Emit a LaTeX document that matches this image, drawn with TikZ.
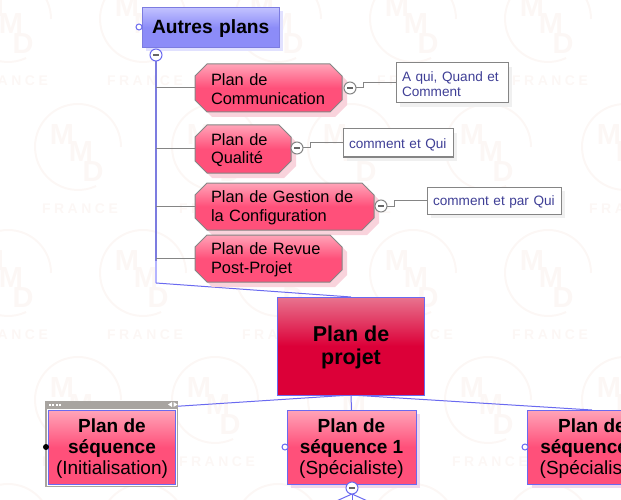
\documentclass[tikz,border=0pt]{standalone}
\usepackage{fontspec}
\setmainfont{Liberation Sans}
\newfontfamily\wmfont[LetterSpace=25]{Liberation Sans}
\usetikzlibrary{shadows,backgrounds}
\definecolor{wmc}{HTML}{FCF7F5}
\definecolor{bluel}{HTML}{7C7CE0}
\definecolor{bluepale}{HTML}{B4B4FF}
\definecolor{bluet}{HTML}{6A6AF0}
\definecolor{grayl}{HTML}{858585}
\definecolor{framegray}{HTML}{A8A4A0}
\definecolor{noteink}{HTML}{3F3F96}
\definecolor{pinkshadow}{HTML}{F9D3DC}
\definecolor{seqshadowc}{HTML}{EFD8EE}
\definecolor{ptop}{HTML}{FFA4B8}
\definecolor{pbot}{HTML}{FF507A}
\definecolor{rtop}{HTML}{E8748F}
\definecolor{rbot}{HTML}{DC0038}
\definecolor{btop}{HTML}{C2C2FF}
\definecolor{bbot}{HTML}{8C8CF8}
\pgfdeclareverticalshading{pinkgrad}{100bp}{color(0bp)=(pbot); color(50bp)=(pbot); color(75bp)=(ptop); color(100bp)=(ptop)}
\pgfdeclareverticalshading{redgrad}{100bp}{color(0bp)=(rbot); color(50bp)=(rbot); color(75bp)=(rtop); color(100bp)=(rtop)}
\pgfdeclareverticalshading{bluegrad}{100bp}{color(0bp)=(bbot); color(50bp)=(bbot); color(75bp)=(btop); color(100bp)=(btop)}
\tikzset{
 x=1pt,y=-1pt,
 sizebox/.style n args={2}{minimum width=#1,minimum height=#2,inner sep=0pt,outer sep=0pt},
 octtext/.style n args={2}{rectangle,sizebox={#1}{#2},text width=#1-32pt,align=left,
   font=\fontsize{16.4}{18.5}\selectfont,text=black},
 octfill/.style={draw=grayl,line width=1pt,shading=pinkgrad},
 octshade/.style={fill=pinkshadow,draw=none},
 notebox/.style n args={2}{rectangle,sizebox={#1}{#2},draw=grayl,line width=1pt,fill=white,text=noteink,
   align=left,text width=#1-12pt,font=\fontsize{13.6}{15}\selectfont,
   copy shadow={shadow xshift=4pt,shadow yshift=-4pt,fill=black!6,draw=none}},
 seqbox/.style={rectangle,sizebox={129pt}{74pt},draw=bluet,line width=1pt,shading=pinkgrad,align=center,
   font=\fontsize{19}{21}\selectfont,text=black},
 seqshadow/.style={copy shadow={shadow xshift=4pt,shadow yshift=-4pt,fill=seqshadowc,draw=none}},
 minusbtn/.style={circle,draw=#1,fill=white,line width=1pt,minimum size=12pt,inner sep=0pt,outer sep=0pt,
   path picture={\fill[black!60] ([xshift=-3pt,yshift=-1pt]path picture bounding box.center) rectangle ([xshift=3pt,yshift=1pt]path picture bounding box.center);}},
 port/.style={circle,draw=bluet,fill=white,line width=1pt,minimum size=6pt,inner sep=0pt,outer sep=0pt},
 gline/.style={draw=grayl,line width=1pt},
 bline/.style={draw=bluet,line width=1pt},
 wmline/.style={draw=wmc,line width=2pt},
 wmtext/.style={text=wmc,inner sep=0pt,font=\fontsize{29}{29}\selectfont\bfseries},
 wmfr/.style={text=wmc,inner sep=0pt,font=\wmfont\fontsize{14}{14}\selectfont\bfseries},
}
\newcommand{\wmark}[2]{%
 \draw[wmline] (#1+43,#2) arc[start angle=0,end angle=295,radius=43pt];
 \node[wmtext] (wma-#1-#2) at (#1-16,#2-12) {M};
 \node[wmtext] (wmb-#1-#2) at (#1+3,#2+5) {M};
 \node[wmtext] (wmc-#1-#2) at (#1+15,#2+25) {D};
 \node[wmfr] (wmd-#1-#2) at (#1+2,#2+62) {FRANCE};
}
% name, left, top, right, bottom, text
\newcommand{\octnode}[6]{%
 \path[octshade] (#2+12+5,#3+5) -- (#4-12+5,#3+5) -- (#4+5,#3+12+5) -- (#4+5,#5-12+5) -- (#4-12+5,#5+5) -- (#2+12+5,#5+5) -- (#2+5,#5-12+5) -- (#2+5,#3+12+5) -- cycle;
 \path[octfill] (#2+12,#3) -- (#4-12,#3) -- (#4,#3+12) -- (#4,#5-12) -- (#4-12,#5) -- (#2+12,#5) -- (#2,#5-12) -- (#2,#3+12) -- cycle;
 \pgfmathsetmacro{\octw}{#4-#2}\pgfmathsetmacro{\octh}{#5-#3}
 \node[octtext={\octw pt}{\octh pt}] (#1) at ({(#2+#4)/2},{(#3+#5)/2}) {\rule{0pt}{14pt}#6};
}
\begin{document}
\begin{tikzpicture}
\path[use as bounding box] (0,0) rectangle (621,500);

% main nodes
\node[rectangle,sizebox={137pt}{40pt},draw=bluel,line width=1pt,shading=bluegrad,
  copy shadow={shadow xshift=4pt,shadow yshift=-4pt,fill=bluepale!40!white,draw=none},
  font=\fontsize{19.2}{21}\selectfont\bfseries,text=black,align=left,text width=117pt] (autres) at (210.5,27.5) {\rule{0pt}{16pt}Autres~plans};
\node[port] (autresport) at (139,27) {};
\node[minusbtn=bluet] (autresmin) at (156,55) {};

\octnode{comm}{195}{64}{342}{112}{Plan de\\Communication}
\octnode{qual}{195}{125}{291}{173}{Plan de\\Qualité}
\octnode{conf}{195}{183}{374}{230}{Plan de Gestion de\\la Configuration}
\octnode{revue}{195}{235}{342}{282}{Plan de Revue\\Post-Projet}

\node[minusbtn=grayl] (commmin) at (350,88) {};
\node[minusbtn=grayl] (qualmin) at (297,148) {};
\node[minusbtn=grayl] (confmin) at (381,206) {};

\node[notebox={112pt}{40pt}] (n1) at (452,83) {\rule{0pt}{13pt}A~qui,~Quand~et\\Comment};
\node[notebox={110pt}{28pt}] (n2) at (398,143) {\rule{0pt}{13pt}comment~et~Qui};
\node[notebox={134pt}{27pt}] (n3) at (494,200.5) {\rule{0pt}{13pt}comment~et~par~Qui};

\node[rectangle,sizebox={147pt}{98pt},draw=bluet,line width=1pt,shading=redgrad,align=center,
  font=\fontsize{21.5}{23}\selectfont\bfseries,text=black] (projet) at (351,346) {\rule{0pt}{18pt}Plan de\\projet};

% selected sequence node with its frame
\node[rectangle,sizebox={133pt}{86pt},fill=framegray,draw=none] (selframe) at (111.5,444) {};
\node[rectangle,sizebox={130pt}{77pt},fill=white,draw=none] (selgap) at (112,447.5) {};
\node[seqbox,minimum width=127pt,minimum height=74pt] (s0) at (112,447.5) {\rule{0pt}{16pt}\textbf{Plan de}\\\textbf{séquence}\\(Initialisation)};
\node[circle,fill=black,minimum size=6pt,inner sep=0pt] (s0port) at (46,447) {};
\foreach \i in {0,1,2,3}{\fill[white] (48.5+\i*3.6,403.5) rectangle ++(2,2);}
\fill[white] (168,404.5) -- (172,402) -- (172,407) -- cycle;
\fill[white] (173.5,402) -- (177.5,404.5) -- (173.5,407) -- cycle;

\node[seqbox,seqshadow] (s1) at (351.5,447) {\rule{0pt}{16pt}\textbf{Plan de}\\\textbf{séquence 1}\\(Spécialiste)};
\node[port] (s1port) at (285,447) {};
\node[minusbtn=bluet] (s1min) at (352,488) {};
\coordinate (d1) at (332,503);
\coordinate (d2) at (352,503);
\coordinate (d3) at (372,503);

\node[seqbox,seqshadow] (s2) at (592,447) {\rule{0pt}{16pt}\textbf{Plan de}\\\textbf{séquence 2}\\(Spécialiste)};
\node[port] (s2port) at (525,447) {};

\coordinate (corner) at (156,283);
\coordinate (fade) at (156,261);

\begin{scope}[on background layer]
 \foreach \x in {8,143,278,413,548}{\wmark{\x}{19}\wmark{\x}{273}\wmark{\x}{527}}
 \foreach \x in {78,215,351,488,625}{\wmark{\x}{147}\wmark{\x}{400}}
 % trunk
 \draw[draw=bluel,line width=2pt] (autresmin.south) -- (fade);
 \draw[draw=bluepale,line width=2pt] (fade) -- (corner);
 \draw[bline] (corner) -- (projet.north);
 % branches
 \foreach \n in {comm,qual,conf,revue}{\draw[gline] (\n.west -| autresmin) -- (\n.west);}
 \draw[bline] (autres.east) -- ++(3,0);
 \draw[gline] (comm.east) -- (commmin);
 \draw[gline] (qual.east) -- (qualmin);
 \draw[gline] (conf.east) -- (confmin);
 \draw[gline] (revue.east) -- ++(3,0);
 \draw[gline] (commmin.east) -| (363,83) -- (n1.west);
 \draw[gline] (qualmin.east) -| (310,143) -- (n2.west);
 \draw[gline] (confmin.east) -| (394,200.5) -- (n3.west);
 \draw[gline] (n1.east) -- ++(3,0);
 \draw[gline] (n2.east) -- ++(3,0);
 \draw[gline] (n3.east) -- ++(3,0);
 % tree below the project
 \draw[bline] (projet.south) -- (s0.north);
 \draw[bline] (projet.south) -- (s1.north);
 \draw[bline] (projet.south) -- (s2.north);
 \draw[bline] (s1min.south) -- (d1);
 \draw[bline] (s1min.south) -- (d2);
 \draw[bline] (s1min.south) -- (d3);
\end{scope}
\end{tikzpicture}
\end{document}
